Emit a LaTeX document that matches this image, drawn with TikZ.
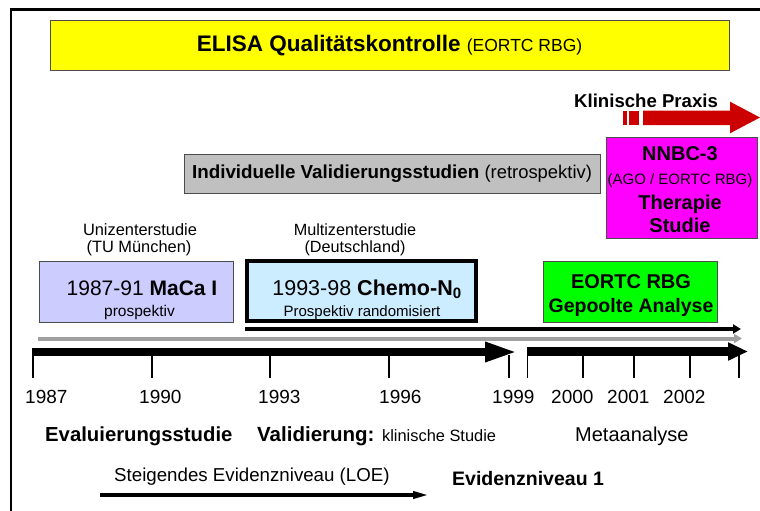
\documentclass[tikz,border=0pt]{standalone}
\usepackage{fontspec}
\setmainfont{Liberation Sans}
\usetikzlibrary{arrows.meta}
\definecolor{yel}{HTML}{FFFF00}
\definecolor{grbox}{HTML}{C0C0C0}
\definecolor{mag}{HTML}{FF00FF}
\definecolor{lav}{HTML}{CCCCFF}
\definecolor{lblue}{HTML}{CCECFF}
\definecolor{grn}{HTML}{00FF00}
\definecolor{rarrow}{HTML}{CC0000}
\definecolor{gline}{HTML}{A0A0A0}
\newcommand\fsz[1]{\fontsize{#1}{#1}\selectfont}
\begin{document}
\begin{tikzpicture}[x=1pt,y=-1pt,
  box/.style={draw=black!70, line width=1pt, inner sep=0pt},
  lbl/.style={inner sep=0pt, anchor=base west},
  lblc/.style={inner sep=0pt, anchor=base},
  tickline/.style={line width=1.5pt},
  bigarrow/.style={line width=8.5pt},
]
\useasboundingbox (0,0) rectangle (760,511);
% frame
\coordinate (fbl) at (11,511); \coordinate (ftl) at (11,9.3); \coordinate (ftr) at (760,9.3);
\draw[line width=2.6pt] (fbl) -- (ftl) -- (ftr);

% yellow box
\node[box, fill=yel, minimum width=679pt, minimum height=50pt] (elisa) at (389.5,46)
  {\fsz{22.5}\bfseries ELISA Qualitätskontrolle \mdseries\fsz{17.5}(EORTC RBG)};

% Klinische Praxis
\node[lbl] (klin) at (574,107) {\fsz{18.6}\bfseries Klinische Praxis};
\fill[rarrow] (643,110.7) -- (730,110.7) -- (730,101.7) -- (760,117.5) -- (730,133.3) -- (730,125) -- (643,125) -- cycle;
\fill[rarrow] (622.7,110.7) rectangle (627,125);
\fill[rarrow] (629,110.7) rectangle (639,125);

% gray box
\node[box, fill=grbox, minimum width=416pt, minimum height=39pt] (indiv) at (392,173.5)
  {\fsz{18.8}\bfseries Individuelle Validierungsstudien \mdseries\fsz{18.4}(retrospektiv)};

% magenta box
\node[box, fill=mag, minimum width=151pt, minimum height=101pt] (nnbc) at (681.5,187.5) {};
\node[lblc] (nn1) at (680,160) {\fsz{20}\bfseries NNBC-3};
\node[lblc] (nn2) at (680,184.5) {\fsz{15}(AGO / EORTC RBG)};
\node[lblc] (nn3) at (680,209.5) {\fsz{20}\bfseries Therapie};
\node[lblc] (nn4) at (680,232) {\fsz{20}\bfseries Studie};

% headers
\node[lblc] (uni1) at (140,235) {\fsz{16.4}Unizenterstudie};
\node[lblc] (uni2) at (139,252.5) {\fsz{16.4}(TU München)};
\node[lblc] (mul1) at (355,235) {\fsz{16.2}Multizenterstudie};
\node[lblc] (mul2) at (355,252.5) {\fsz{16.2}(Deutschland)};

% MaCa box
\node[box, fill=lav, minimum width=194pt, minimum height=61pt] (maca) at (136,291.5) {};
\node[lblc] (maca1) at (142,295) {\fsz{21}1987-91 \bfseries MaCa I};
\node[lblc] (maca2) at (139.5,316) {\fsz{15.5}prospektiv};

% Chemo box
\node[draw=black, line width=4pt, fill=lblue, inner sep=0pt, minimum width=229pt, minimum height=60pt] (chemo) at (361.5,291) {};
\node[lblc] (chemo1) at (367,295) {\fsz{21.5}1993-98 \bfseries Chemo-N\textsubscript{0}};
\node[lblc] (chemo2) at (362,316) {\fsz{15}Prospektiv randomisiert};

% EORTC box
\node[box, fill=grn, minimum width=174pt, minimum height=61pt] (eortc) at (630,291.5) {};
\node[lblc] (eo1) at (631,288) {\fsz{20}\bfseries EORTC RBG};
\node[lblc] (eo2) at (631,312) {\fsz{19.5}\bfseries Gepoolte Analyse};

% arrows
\coordinate (cs) at (245,329); \coordinate (ce) at (741,329);
\draw[line width=4pt, -{Triangle[length=8pt,width=9pt]}] (cs) -- (ce);
\coordinate (gs) at (38,338.5); \coordinate (ge) at (742,338.5);
\draw[gline, line width=4pt, -{Triangle[length=8pt,width=9pt]}] (gs) -- (ge);
\coordinate (t1s) at (32,352); \coordinate (t1e) at (518,352);
\draw[bigarrow, -{Triangle[length=33pt,width=18pt]}] (t1s) -- (t1e);
\coordinate (t2s) at (527,351.5); \coordinate (t2e) at (748,351.5);
\draw[bigarrow, -{Triangle[length=20pt,width=17pt]}] (t2s) -- (t2e);

% ticks
\foreach \x [count=\i] in {33,152,270,389,509,527.7,583,634,690,739}{
  \coordinate (ta\i) at (\x,355); \coordinate (tb\i) at (\x,378);
  \draw[tickline] (ta\i) -- (tb\i);
}

% years
\foreach \x/\y in {25/1987,139/1990,258/1993,379/1996,492/1999,551/2000,607/2001,663/2002}{
  \node[lbl] (yr\y) at (\x,403) {\fsz{19}\y};
}

% phase labels
\node[lbl] (eval) at (45,441) {\fsz{20.3}\bfseries Evaluierungsstudie};
\node[lbl] (vali) at (257,441) {\fsz{20.5}\bfseries Validierung: \mdseries\fsz{16.4}klinische Studie};
\node[lbl] (meta) at (575,441) {\fsz{20}Metaanalyse};

% evidence
\node[lbl] (steig) at (114,481) {\fsz{18.7}Steigendes Evidenzniveau (LOE)};
\node[lbl] (evid) at (452,485) {\fsz{19.5}\bfseries Evidenzniveau 1};
\coordinate (es) at (100,495); \coordinate (ee) at (429,495);
\draw[line width=3.5pt, -{Triangle[length=16pt,width=7pt]}] (es) -- (ee);
\end{tikzpicture}
\end{document}
